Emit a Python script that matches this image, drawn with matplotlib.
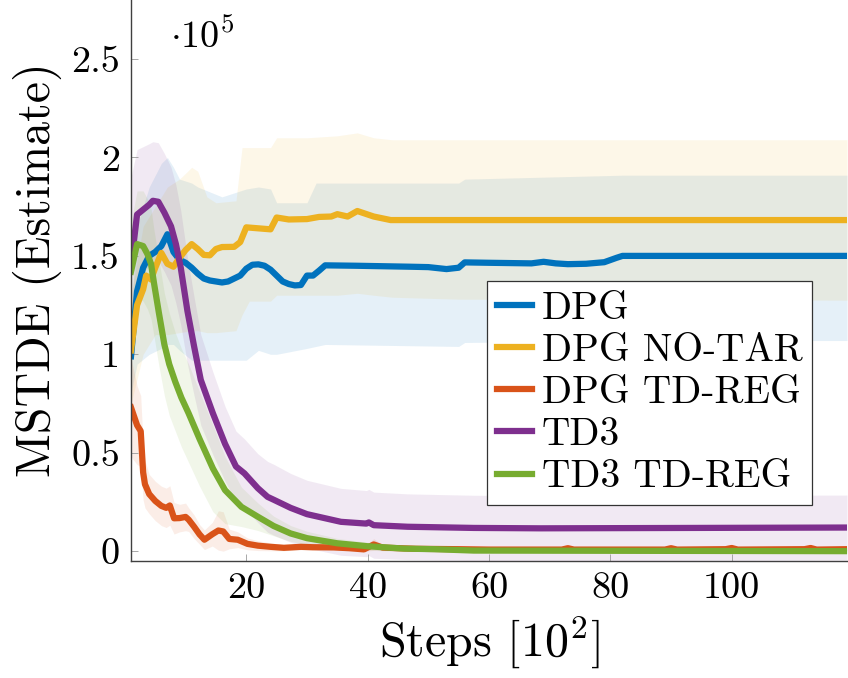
import numpy as np
import matplotlib
matplotlib.use('Agg')
import matplotlib.pyplot as plt

plt.rcParams['font.family'] = 'cmr10'
plt.rcParams['mathtext.fontset'] = 'cm'
plt.rcParams['axes.formatter.use_mathtext'] = True

# ---------------- data (values in units of 1e5) ----------------
series_names = ["DPG", "DPG NO-TAR", "DPG TD-REG", "TD3", "TD3 TD-REG"]
series_colors = ["#0072BD", "#EDB120", "#D95319", "#7E2F8E", "#77AC30"]

dpg_x = [1, 2, 3, 4, 5, 6, 7, 8, 9, 10, 11, 12, 13, 14, 15, 16, 17, 18, 19, 20,
         21, 22, 23, 24, 25, 26, 27, 28, 29, 30, 31, 32, 33, 38, 47, 50, 53, 55,
         56, 60, 67, 69, 71, 73, 76, 79, 81, 82, 119]
dpg_mean = [0.99, 1.32, 1.44, 1.50, 1.52, 1.55, 1.61, 1.52, 1.48, 1.465,
            1.44, 1.41, 1.385, 1.375, 1.37, 1.365, 1.37, 1.385, 1.40, 1.435,
            1.455, 1.457, 1.45, 1.43, 1.40, 1.37, 1.357, 1.35, 1.352, 1.40,
            1.40, 1.425, 1.452, 1.45, 1.445, 1.443, 1.433, 1.44, 1.467, 1.465,
            1.462, 1.47, 1.462, 1.458, 1.46, 1.468, 1.49, 1.5, 1.5]
dpg_band_x = [1, 2, 4, 6, 7, 8, 9, 11, 12, 16, 19, 20, 22, 24, 25, 30, 31.5,
              33, 55, 56, 82, 119]
dpg_hi = [1.2, 1.65, 1.85, 1.97, 2.0, 1.95, 1.89, 1.87, 1.85, 1.80, 1.83,
          1.84, 1.85, 1.84, 1.77, 1.77, 1.87, 1.87, 1.87, 1.89, 1.91, 1.91]
dpg_lo = [0.8, 0.95, 1.0, 1.03, 1.05, 1.05, 1.02, 0.97, 0.97, 0.97, 0.97,
          0.97, 1.02, 1.0, 1.0, 1.03, 1.04, 1.05, 1.04, 1.06, 1.07, 1.07]

notar_x = [1, 2, 3, 3.5, 4.3, 5, 6, 7, 8, 9, 10, 11, 12, 13, 14, 15, 16, 18,
           19, 20, 22, 24, 25, 27, 30, 32, 34, 35, 36.7, 38.3, 41, 43.8, 119]
notar_mean = [1.02, 1.25, 1.33, 1.40, 1.38, 1.44, 1.515, 1.46, 1.445, 1.49,
              1.53, 1.56, 1.535, 1.505, 1.503, 1.535, 1.545, 1.546, 1.57, 1.645,
              1.64, 1.635, 1.695, 1.685, 1.687, 1.698, 1.70, 1.712, 1.70, 1.728,
              1.70, 1.682, 1.682]
notar_band_x = [1, 3, 5, 7, 9, 11, 12, 13.5, 15, 18.3, 19.3, 20.5, 24, 25, 30,
                35, 38.3, 41, 44, 55, 119]
notar_hi = [1.3, 1.65, 1.75, 1.85, 1.89, 1.95, 1.93, 1.80, 1.77, 1.78, 2.05,
            2.05, 2.05, 2.10, 2.10, 2.11, 2.125, 2.10, 2.09, 2.09, 2.09]
notar_lo = [0.75, 1.0, 1.1, 1.1, 1.11, 1.12, 1.12, 1.11, 1.11, 1.12, 1.2,
            1.27, 1.27, 1.30, 1.30, 1.30, 1.31, 1.30, 1.29, 1.28, 1.275]

tdreg_x = [1, 2, 2.6, 3.0, 3.3, 4, 5, 6, 6.8, 7.4, 8.1, 9, 10, 10.5, 11.4,
           12.3, 13.1, 14.4, 15.4, 16.2, 17.2, 18.6, 20.2, 21.9, 24, 26.2, 29,
           31, 34.4, 37, 39.4, 41, 42.5, 48, 55, 60, 72, 73, 74, 89, 90, 91,
           99, 100, 101, 112, 113, 114, 119]
tdreg_mean = [0.73, 0.64, 0.61, 0.40, 0.34, 0.29, 0.255, 0.23, 0.22, 0.232,
              0.167, 0.168, 0.174, 0.16, 0.124, 0.085, 0.058, 0.086, 0.105, 0.10,
              0.062, 0.058, 0.037, 0.028, 0.022, 0.017, 0.022, 0.02, 0.019, 0.015,
              0.009, 0.034, 0.018, 0.012, 0.01, 0.008, 0.008, 0.015, 0.008, 0.008,
              0.015, 0.008, 0.01, 0.016, 0.008, 0.01, 0.016, 0.008, 0.01]
tdreg_std = [0.25, 0.2, 0.18, 0.14, 0.12, 0.1, 0.1, 0.1, 0.1, 0.1,
             0.08, 0.07, 0.07, 0.06, 0.06, 0.05, 0.05, 0.06, 0.1, 0.1,
             0.05, 0.04, 0.03, 0.025, 0.02, 0.015, 0.015, 0.015, 0.012, 0.012,
             0.01, 0.03, 0.012, 0.01, 0.008, 0.008, 0.008, 0.01, 0.008, 0.008,
             0.01, 0.008, 0.008, 0.01, 0.008, 0.008, 0.01, 0.008, 0.008]

td3_x = [1, 2, 3, 4, 4.6, 5.5, 6.5, 7.6, 8.4, 9.2, 10.3, 11.4, 12.5, 14.5,
         16.5, 18.3, 19.7, 21.9, 23.5, 24.6, 27.3, 30, 35.6, 39.8, 40.2, 41,
         46.6, 57.5, 68.5, 119]
td3_mean = [1.45, 1.71, 1.735, 1.76, 1.78, 1.775, 1.72, 1.65, 1.56, 1.44,
            1.22, 1.04, 0.87, 0.70, 0.545, 0.43, 0.395, 0.32, 0.276, 0.26,
            0.22, 0.188, 0.149, 0.14, 0.146, 0.132, 0.124, 0.118, 0.116, 0.12]
td3_std = [0.45, 0.33, 0.32, 0.31, 0.3, 0.3, 0.3, 0.3, 0.3, 0.29,
           0.27, 0.25, 0.23, 0.21, 0.19, 0.18, 0.175, 0.175, 0.18, 0.18,
           0.175, 0.172, 0.17, 0.168, 0.168, 0.168, 0.167, 0.166, 0.165, 0.165]

td3reg_x = [1, 2, 3, 3.7, 4.3, 4.8, 5.6, 6.5, 7.3, 8.3, 9.3, 10.5, 12.3, 14.5,
            16.5, 19.2, 21.9, 24.5, 27.3, 30, 35, 40, 46, 51, 57.5, 119]
td3reg_mean = [1.42, 1.56, 1.55, 1.51, 1.46, 1.36, 1.21, 1.05, 0.95, 0.86,
               0.78, 0.70, 0.57, 0.42, 0.31, 0.225, 0.175, 0.128, 0.09, 0.066,
               0.04, 0.025, 0.013, 0.01, 0.003, 0.0]
td3reg_std = [0.25, 0.27, 0.28, 0.28, 0.28, 0.27, 0.27, 0.26, 0.26, 0.25,
              0.25, 0.25, 0.24, 0.22, 0.17, 0.1, 0.07, 0.05, 0.04, 0.035,
              0.025, 0.02, 0.015, 0.012, 0.01, 0.01]

x_ticks = [20, 40, 60, 80, 100]
x_ticklabels = ["20", "40", "60", "80", "100"]
y_ticks = [0, 0.5, 1, 1.5, 2, 2.5]
y_ticklabels = ["0", "0.5", "1", "1.5", "2", "2.5"]

# ---------------- figure ----------------
fig = plt.figure(figsize=(8.48, 6.78), dpi=100)
ax = fig.add_axes([131 / 848, 1 - 561 / 678, 716 / 848, 561 / 678])

bands = [
    (dpg_band_x, dpg_lo, dpg_hi),
    (notar_band_x, notar_lo, notar_hi),
    (tdreg_x, np.array(tdreg_mean) - np.array(tdreg_std), np.array(tdreg_mean) + np.array(tdreg_std)),
    (td3_x, np.array(td3_mean) - np.array(td3_std), np.array(td3_mean) + np.array(td3_std)),
    (td3reg_x, np.array(td3reg_mean) - np.array(td3reg_std), np.array(td3reg_mean) + np.array(td3reg_std)),
]
means = [(dpg_x, dpg_mean), (notar_x, notar_mean), (tdreg_x, tdreg_mean),
         (td3_x, td3_mean), (td3reg_x, td3reg_mean)]

for (bx, lo, hi), c in zip(bands, series_colors):
    ax.fill_between(bx, lo, hi, color=c, alpha=0.1, linewidth=0)

for (mx, my), c, name in zip(means, series_colors, series_names):
    ax.plot(mx, my, color=c, lw=4.5, label=name)

ax.set_xlim(1, 119)
ax.set_ylim(-0.05, 2.8)
ax.set_xticks(x_ticks)
ax.set_xticklabels(x_ticklabels)
ax.set_yticks(y_ticks)
ax.set_yticklabels(y_ticklabels)
ax.tick_params(direction='in', length=5, width=0.6, color='#9a9a9a',
               labelsize=27.5, pad=8)

for s in ['top', 'right']:
    ax.spines[s].set_visible(False)
for s in ['left', 'bottom']:
    ax.spines[s].set_color('#404040')
    ax.spines[s].set_linewidth(1.0)

ax.set_ylabel('MSTDE (Estimate)', fontsize=34.5)
ax.yaxis.set_label_coords(-0.097, 0.52)
ax.set_xlabel(r'Steps $[10^2]$', fontsize=34.5)
ax.xaxis.set_label_coords(0.5, -0.093)

ax.text(0.055, 0.915, r'$\cdot 10^{5}$', transform=ax.transAxes, fontsize=27.5,
        ha='left', va='baseline')

leg = ax.legend(loc='upper left', bbox_to_anchor=(0.497, 0.499), fontsize=28.3,
                frameon=True, fancybox=False, edgecolor='#333333', framealpha=1,
                handlelength=0.9, handletextpad=0.25, borderpad=0.25,
                labelspacing=0.16, borderaxespad=0)
leg.get_frame().set_linewidth(0.9)

fig.savefig('out.png', dpi=100)
